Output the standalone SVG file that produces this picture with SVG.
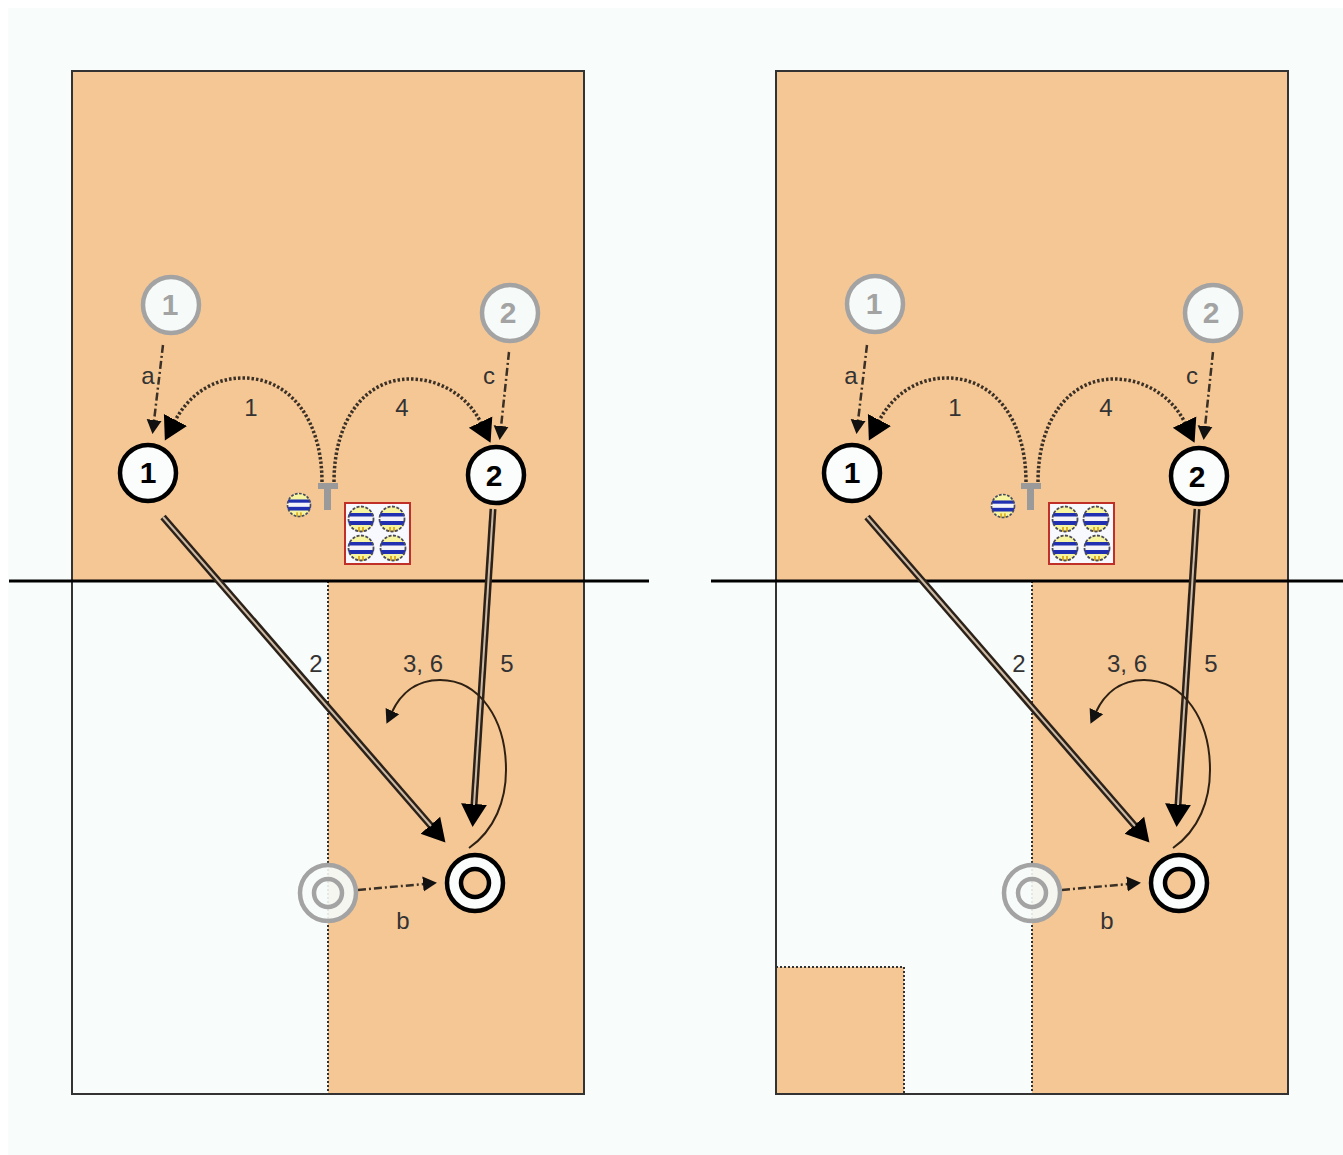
<svg xmlns="http://www.w3.org/2000/svg" xmlns:xlink="http://www.w3.org/1999/xlink" width="1343" height="1155" viewBox="0 0 1343 1155">
<style>
text{font-family:"Liberation Sans",Arial,sans-serif}
.lab{font-size:24px;fill:#333;text-anchor:middle}
.num{font-size:30px;font-weight:bold;text-anchor:middle}
.p{fill:#fafdfb;stroke:#000;stroke-width:4.500}
.g{fill:#f6fbf9;stroke:#a3a3a3;stroke-width:4.500}
.pi{fill:#f5c795;stroke:#000;stroke-width:4.500}
.gi{fill:none;stroke:#a3a3a3;stroke-width:4.500}
.court{fill:none;stroke:#333;stroke-width:2}
.o{fill:#f5c795}
.dot{fill:none;stroke:#333;stroke-width:2;stroke-dasharray:2 2}
.arc{fill:none;stroke:#3a3026;stroke-width:3.500;stroke-dasharray:2.500 2;marker-end:url(#big)}
.dd{fill:none;stroke:#3a3026;stroke-width:2.500;stroke-dasharray:8 3 2 3;marker-end:url(#small)}
.thin{fill:none;stroke:#2e2114;stroke-width:2;marker-end:url(#small)}
.d1{stroke:#2b2118;stroke-width:7;fill:none;marker-end:url(#big)}
.d2{stroke:#cdbba6;stroke-width:2;fill:none}
.net{stroke:#000;stroke-width:3}
.t{fill:#9a9a9a}
</style>
<defs>
<marker id="big" markerUnits="userSpaceOnUse" markerWidth="26" markerHeight="28" refX="1" refY="14" orient="auto"><path d="M0,1L23,14L0,27Z" fill="#000"/></marker>
<marker id="small" markerUnits="userSpaceOnUse" markerWidth="16" markerHeight="18" refX="1" refY="9" orient="auto"><path d="M0,1.500L14,9L0,16.500Z" fill="#111"/></marker>
<clipPath id="bc"><circle r="13"/></clipPath>
<g id="ball"><circle r="13" fill="#f7f5a0"/><g clip-path="url(#bc)"><rect x="-13" y="-5" width="26" height="10" fill="#f4f4f8"/><rect x="-13" y="-6" width="26" height="3.500" fill="#2030b0"/><rect x="-13" y="2" width="26" height="4" fill="#2030b0"/><rect x="-3" y="8" width="2" height="5" fill="#e0b020"/><rect x="1" y="8" width="2" height="5" fill="#e0b020"/></g><circle r="12.500" fill="none" stroke="#4a4a60" stroke-width="1.800" stroke-dasharray="3 1.500"/></g>
<g id="balls"><rect x="345" y="503" width="65" height="61" fill="#f8f8ff" stroke="#c03028" stroke-width="2"/><use xlink:href="#ball" href="#ball" x="361" y="519"/><use xlink:href="#ball" href="#ball" x="392" y="519"/><use xlink:href="#ball" href="#ball" x="361" y="548"/><use xlink:href="#ball" href="#ball" x="393" y="548"/></g>
</defs>
<rect width="1343" height="1155" fill="#fff"/>
<rect x="8" y="8" width="1335" height="1147" fill="#f8fcfa"/>

<g id="court-left">
<rect class="o" x="72" y="71" width="512" height="510"/>
<rect class="o" x="328" y="581" width="256" height="513"/>
<line class="dot" x1="328" y1="581" x2="328" y2="1094"/>
<rect class="court" x="72" y="71" width="512" height="1023"/>
<line class="net" x1="9" y1="581" x2="649" y2="581"/>
</g>
<g id="court-right">
<rect class="o" x="776" y="71" width="512" height="510"/>
<rect class="o" x="1032" y="581" width="256" height="513"/>
<rect class="o" x="776" y="967" width="128" height="127"/>
<path class="dot" d="M1032,581V1094M776,967H904V1094"/>
<rect class="court" x="776" y="71" width="512" height="1023"/>
<line class="net" x1="711" y1="581" x2="1343" y2="581"/>
</g>

<g id="connectors">
<path class="dd" d="M163,345L154,421"/>
<path class="dd" d="M509,352L501,427"/>
<path class="arc" d="M322,482C322,420 290,378 243,378C212,378 188,396 175,421"/>
<path class="arc" d="M334,482C334,420 365,379 410,379C440,379 468,396 481,423"/>
<path class="d1" d="M163,517L431,826"/><path class="d2" d="M163,517L431,826"/>
<path class="d1" d="M493,509L474,805"/><path class="d2" d="M493,509L474,805"/>
<path class="thin" d="M469,848C495,830 506,800 506,770C506,720 480,680 440,680C415,680 400,695 392,712"/>
<path class="dd" d="M358,890L424,884"/>

<path class="dd" d="M867,345L858,421"/>
<path class="dd" d="M1213,352L1205,427"/>
<path class="arc" d="M1026,482C1026,420 994,378 947,378C916,378 892,396 879,421"/>
<path class="arc" d="M1038,482C1038,420 1069,379 1114,379C1144,379 1172,396 1185,423"/>
<path class="d1" d="M867,517L1135,826"/><path class="d2" d="M867,517L1135,826"/>
<path class="d1" d="M1197,509L1178,805"/><path class="d2" d="M1197,509L1178,805"/>
<path class="thin" d="M1173,848C1199,830 1210,800 1210,770C1210,720 1184,680 1144,680C1119,680 1104,695 1096,712"/>
<path class="dd" d="M1062,890L1128,884"/>
</g>

<g id="equipment-left">
<rect class="t" x="318" y="483" width="20" height="6"/><rect class="t" x="324" y="483" width="7" height="27"/>
<use xlink:href="#ball" href="#ball" transform="translate(299,505) scale(.92)"/>
<use xlink:href="#balls" href="#balls"/>
</g>
<g id="equipment-right">
<rect class="t" x="1021" y="483" width="20" height="6"/><rect class="t" x="1027" y="483" width="7" height="27"/>
<use xlink:href="#ball" href="#ball" transform="translate(1003,506) scale(.92)"/>
<use xlink:href="#balls" href="#balls" transform="translate(704,0)"/>
</g>

<g id="l-ghost1"><circle class="g" cx="171" cy="305" r="28"/><text class="num" x="170" y="315" fill="#a3a3a3">1</text></g>
<g id="l-ghost2"><circle class="g" cx="510" cy="313" r="28"/><text class="num" x="508" y="323" fill="#a3a3a3">2</text></g>
<g id="l-p1"><circle class="p" cx="148" cy="473" r="28"/><text class="num" x="148" y="483" fill="#000">1</text></g>
<g id="l-p2"><circle class="p" cx="496" cy="475" r="28"/><text class="num" x="494" y="486" fill="#000">2</text></g>
<g id="l-target"><circle class="p" cx="475" cy="883" r="28"/><circle class="pi" cx="475" cy="883" r="14"/></g>
<g id="l-ghost-target"><circle class="g" cx="328" cy="893" r="28" fill-opacity=".9"/><circle class="gi" cx="328" cy="893" r="14"/></g>

<g id="r-ghost1"><circle class="g" cx="875" cy="304" r="28"/><text class="num" x="874" y="314" fill="#a3a3a3">1</text></g>
<g id="r-ghost2"><circle class="g" cx="1213" cy="313" r="28"/><text class="num" x="1211" y="323" fill="#a3a3a3">2</text></g>
<g id="r-p1"><circle class="p" cx="852" cy="473" r="28"/><text class="num" x="852" y="483" fill="#000">1</text></g>
<g id="r-p2"><circle class="p" cx="1199" cy="476" r="28"/><text class="num" x="1197" y="487" fill="#000">2</text></g>
<g id="r-target"><circle class="p" cx="1179" cy="883" r="28"/><circle class="pi" cx="1179" cy="883" r="14"/></g>
<g id="r-ghost-target"><circle class="g" cx="1032" cy="893" r="28" fill-opacity=".9"/><circle class="gi" cx="1032" cy="893" r="14"/></g>

<g id="labels">
<text class="lab" x="148" y="384">a</text><text class="lab" x="489" y="384">c</text>
<text class="lab" x="251" y="416">1</text><text class="lab" x="402" y="416">4</text>
<text class="lab" x="316" y="672">2</text><text class="lab" x="423" y="672">3, 6</text><text class="lab" x="507" y="672">5</text>
<text class="lab" x="403" y="929">b</text>
<text class="lab" x="851" y="384">a</text><text class="lab" x="1192" y="384">c</text>
<text class="lab" x="955" y="416">1</text><text class="lab" x="1106" y="416">4</text>
<text class="lab" x="1019" y="672">2</text><text class="lab" x="1127" y="672">3, 6</text><text class="lab" x="1211" y="672">5</text>
<text class="lab" x="1107" y="929">b</text>
</g>
</svg>
